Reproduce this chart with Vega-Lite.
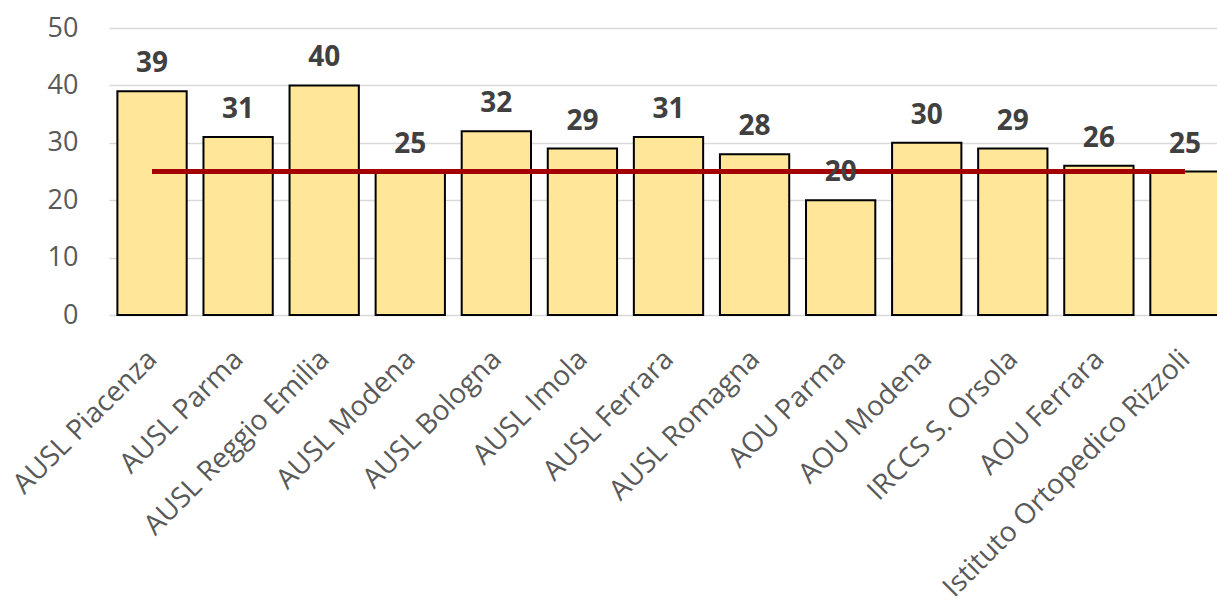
{
  "$schema": "https://vega.github.io/schema/vega-lite/v6.json",
  "autosize": "none",
  "width": 1108,
  "height": 287,
  "padding": {"left": 109, "top": 28, "right": 0, "bottom": 293},
  "background": "white",
  "config": {
    "view": {"stroke": null},
    "font": "Open Sans"
  },
  "data": {
    "values": [
      {"azienda": "AUSL Piacenza", "valore": 39, "riferimento": 25},
      {"azienda": "AUSL Parma", "valore": 31, "riferimento": 25},
      {"azienda": "AUSL Reggio Emilia", "valore": 40, "riferimento": 25},
      {"azienda": "AUSL Modena", "valore": 25, "riferimento": 25},
      {"azienda": "AUSL Bologna", "valore": 32, "riferimento": 25},
      {"azienda": "AUSL Imola", "valore": 29, "riferimento": 25},
      {"azienda": "AUSL Ferrara", "valore": 31, "riferimento": 25},
      {"azienda": "AUSL Romagna", "valore": 28, "riferimento": 25},
      {"azienda": "AOU Parma", "valore": 20, "riferimento": 25},
      {"azienda": "AOU Modena", "valore": 30, "riferimento": 25},
      {"azienda": "IRCCS S. Orsola", "valore": 29, "riferimento": 25},
      {"azienda": "AOU Ferrara", "valore": 26, "riferimento": 25},
      {"azienda": "Istituto Ortopedico Rizzoli", "valore": 25, "riferimento": 25}
    ]
  },
  "encoding": {
    "x": {
      "field": "azienda",
      "type": "nominal",
      "sort": null,
      "scale": {"range": [0, 1119], "paddingInner": 0.195, "paddingOuter": 0.0975},
      "axis": {
        "title": null,
        "labelAngle": -45,
        "labelFontSize": 28,
        "labelColor": "#595959",
        "labelPadding": 30,
        "labelOffset": -9,
        "labelLimit": 0,
        "ticks": false,
        "domain": false
      }
    }
  },
  "layer": [
    {
      "mark": {"type": "bar", "fill": "#FFE699", "stroke": "#000000", "strokeWidth": 2},
      "encoding": {
        "y": {
          "field": "valore",
          "type": "quantitative",
          "scale": {"domain": [0, 50]},
          "axis": {
            "title": null,
            "values": [0, 10, 20, 30, 40, 50],
            "labelFontSize": 27,
            "labelColor": "#595959",
            "labelPadding": 31,
            "ticks": false,
            "domain": false,
            "gridColor": "#D9D9D9",
            "gridWidth": 1.5
          }
        }
      }
    },
    {
      "mark": {"type": "line", "color": "#A50000", "strokeWidth": 5},
      "encoding": {
        "y": {"field": "riferimento", "type": "quantitative"}
      }
    },
    {
      "mark": {"type": "text", "fontSize": 28, "fontWeight": "bold", "color": "#404040", "baseline": "alphabetic", "dy": -19},
      "encoding": {
        "y": {"field": "valore", "type": "quantitative"},
        "text": {"field": "valore", "type": "quantitative"}
      }
    }
  ]
}
